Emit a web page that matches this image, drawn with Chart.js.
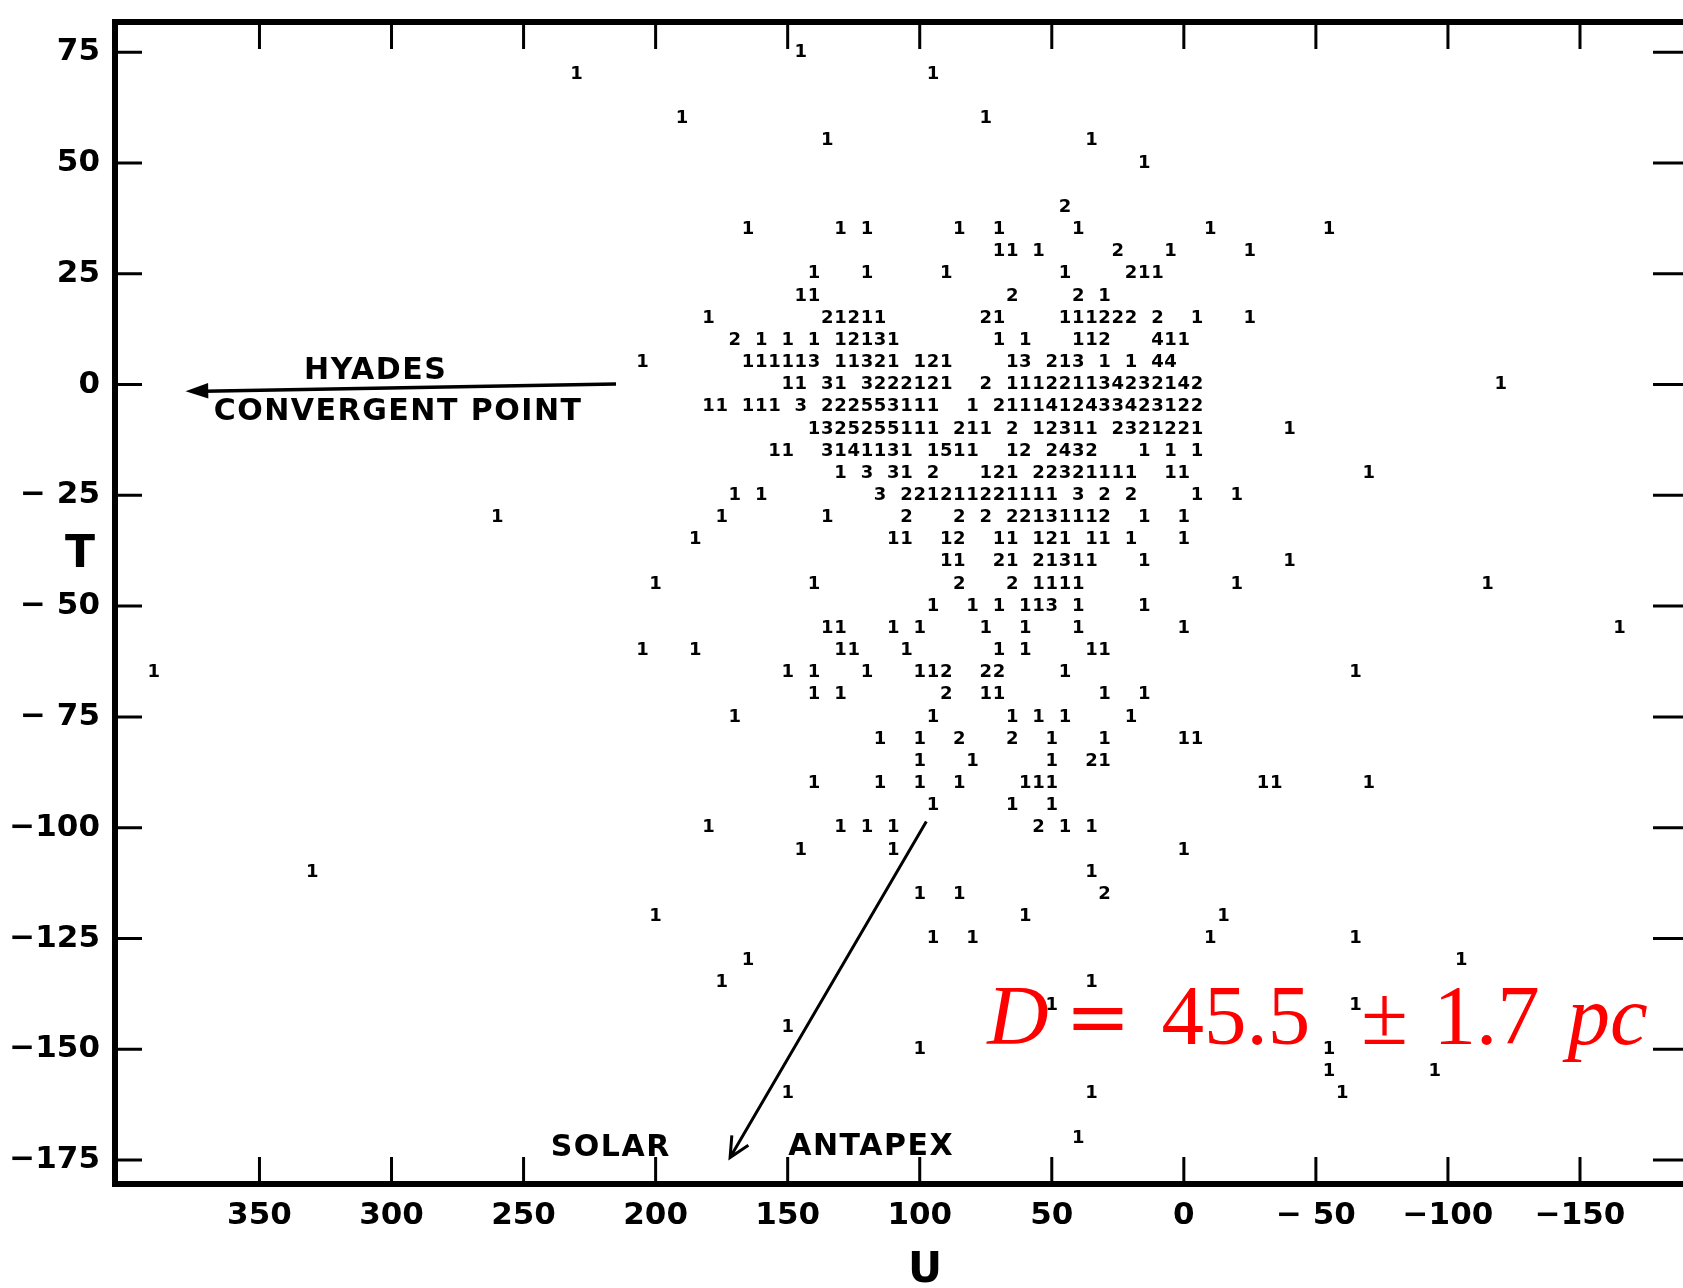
<!DOCTYPE html>
<html>
<head>
<meta charset="utf-8">
<title>U-T plane</title>
<script src="https://cdn.jsdelivr.net/npm/chart.js@4.4.1/dist/chart.umd.min.js"></script>
<style>
html, body { margin: 0; padding: 0; background: #fff; }
canvas { display: block; }
</style>
</head>
<body>
<canvas id="ut" width="1683" height="1288"></canvas>
<script>
var uTicks = [350, 300, 250, 200, 150, 100, 50, 0, -50, -100, -150];
var tTicks = [75, 50, 25, 0, -25, -50, -75, -100, -125, -150, -175];

// T of each row of 5 km/s bins
var rowT = [75, 70, 60, 55, 50, 40, 35, 30, 25, 20, 15, 10, 5, 0,
  -5, -10, -15, -20, -25, -30, -35, -40, -45, -50, -55, -60, -65, -70, -75, -80,
  -85, -90, -95, -100, -105, -110, -115, -120, -125, -130, -135, -140, -145, -150,
  -155, -160, -170];

// counts per row: [U of first bin, digits]; each next digit is 5 km/s lower in U, blank = empty bin
var rowCounts = [
  [[145, '1']],
  [[230, '1'], [95, '1']],
  [[190, '1'], [75, '1']],
  [[135, '1'], [35, '1']],
  [[15, '1']],
  [[45, '2']],
  [[165, '1'], [130, '1 1'], [85, '1'], [70, '1'], [40, '1'], [-10, '1'], [-55, '1']],
  [[70, '11 1'], [25, '2'], [5, '1'], [-25, '1']],
  [[140, '1'], [120, '1'], [90, '1'], [45, '1'], [20, '211']],
  [[145, '11'], [65, '2'], [40, '2 1']],
  [[180, '1'], [135, '21211'], [75, '21'], [45, '111222 2'], [-5, '1'], [-25, '1']],
  [[170, '2 1 1 1 12131'], [70, '1 1'], [40, '112'], [10, '411']],
  [[205, '1'], [165, '111113 11321 121'], [65, '13 213 1 1 44']],
  [[150, '11 31 3222121  2 111221134232142'], [-120, '1']],
  [[180, '11 111 3 222553111  1 2111412433423122']],
  [[140, '1325255111 211 2 12311 2321221'], [-40, '1']],
  [[155, '11  3141131 1511  12 2432   1 1 1']],
  [[130, '1 3 31 2   121 22321111  11'], [-70, '1']],
  [[170, '1 1'], [115, '3 221211221111 3 2 2'], [-5, '1'], [-20, '1']],
  [[260, '1'], [175, '1'], [135, '1'], [105, '2'], [85, '2 2 22131112'], [15, '1'], [0, '1']],
  [[185, '1'], [110, '11'], [90, '12'], [70, '11 121'], [35, '11'], [20, '1'], [0, '1']],
  [[90, '11'], [70, '21 21311'], [15, '1'], [-40, '1']],
  [[200, '1'], [140, '1'], [85, '2'], [65, '2 1111'], [-20, '1'], [-115, '1']],
  [[95, '1'], [80, '1 1 113 1'], [15, '1']],
  [[135, '11'], [110, '1 1'], [75, '1'], [60, '1'], [40, '1'], [0, '1'], [-165, '1']],
  [[205, '1'], [185, '1'], [130, '11'], [105, '1'], [70, '1 1'], [35, '11']],
  [[390, '1'], [150, '1 1'], [120, '1'], [100, '112'], [75, '22'], [45, '1'], [-65, '1']],
  [[140, '1 1'], [90, '2'], [75, '11'], [30, '1'], [15, '1']],
  [[170, '1'], [95, '1'], [65, '1 1 1'], [20, '1']],
  [[115, '1'], [100, '1'], [85, '2'], [65, '2'], [50, '1'], [30, '1'], [0, '11']],
  [[100, '1'], [80, '1'], [50, '1'], [35, '21']],
  [[140, '1'], [115, '1'], [100, '1'], [85, '1'], [60, '111'], [-30, '11'], [-70, '1']],
  [[95, '1'], [65, '1'], [50, '1']],
  [[180, '1'], [130, '1 1 1'], [55, '2 1 1']],
  [[145, '1'], [110, '1'], [0, '1']],
  [[330, '1'], [35, '1']],
  [[100, '1'], [85, '1'], [30, '2']],
  [[200, '1'], [60, '1'], [-15, '1']],
  [[95, '1'], [80, '1'], [-10, '1'], [-65, '1']],
  [[165, '1'], [-105, '1']],
  [[175, '1'], [35, '1']],
  [[50, '1'], [-65, '1']],
  [[150, '1']],
  [[100, '1'], [-55, '1']],
  [[-55, '1'], [-95, '1']],
  [[150, '1'], [35, '1'], [-60, '1']],
  [[40, '1']]
];

// annotation anchors, in (U, T)
var hyadesArrow = [[215, 0.1], [378, -1.5]];
var antapexArrow = [[97.5, -98.6], [171.8, -174.4]];
var labels = [
  ['HYADES', 306, 3.0],
  ['CONVERGENT POINT', 297.5, -6.2],
  ['SOLAR', 217, -172.4],
  ['ANTAPEX', 118.4, -172.2]
];
// distance result, pieces placed along the baseline: text, U, italic, font
var formula = [
  ['D', 74.4, true, 'Liberation Serif', 85],
  ['=', 44.9, false, 'DejaVu Serif', 78],
  ['45.5', 8.5, false, 'Liberation Serif', 85],
  ['\u00b1', -67.2, false, 'Liberation Serif', 85],
  ['1.7', -94.5, false, 'Liberation Serif', 85],
  ['pc', -145.3, true, 'Liberation Serif', 85]
];
var formulaT = -148.9;

function countPoints() {
  var pts = [];
  rowT.forEach(function (t, i) {
    rowCounts[i].forEach(function (seg) {
      var s = seg[1];
      for (var k = 0; k < s.length; k++) {
        if (s[k] !== ' ') pts.push({ x: seg[0] - 5 * k, y: t, n: s[k] });
      }
    });
  });
  return pts;
}

function axisLabel(v) {
  if (v >= 0) return String(v);
  return (v > -100 ? '\u2212 ' : '\u2212') + Math.abs(v);
}

var countText = {
  id: 'countText',
  afterDatasetsDraw: function (chart) {
    var ctx = chart.ctx;
    var pts = chart.data.datasets[0].data;
    ctx.save();
    ctx.font = 'bold 18px "DejaVu Sans"';
    ctx.fillStyle = '#000';
    ctx.textAlign = 'center';
    ctx.textBaseline = 'middle';
    chart.getDatasetMeta(0).data.forEach(function (el, i) {
      ctx.fillText(pts[i].n, el.x, el.y);
    });
    ctx.restore();
  }
};

var frame = {
  id: 'frame',
  afterDraw: function (chart) {
    var ctx = chart.ctx, a = chart.chartArea;
    var xs = chart.scales.x, ys = chart.scales.y;
    ctx.save();
    ctx.strokeStyle = '#000';
    ctx.lineWidth = 6;
    ctx.lineCap = 'square';
    ctx.beginPath();
    ctx.moveTo(a.right, a.top);
    ctx.lineTo(a.left, a.top);
    ctx.lineTo(a.left, a.bottom);
    ctx.lineTo(a.right, a.bottom);
    ctx.stroke();

    // inward ticks on all four sides
    ctx.lineWidth = 3;
    ctx.lineCap = 'butt';
    ctx.beginPath();
    uTicks.forEach(function (v) {
      var px = xs.getPixelForValue(v);
      ctx.moveTo(px, a.bottom); ctx.lineTo(px, a.bottom - 27);
      ctx.moveTo(px, a.top); ctx.lineTo(px, a.top + 27);
    });
    tTicks.forEach(function (v) {
      var py = ys.getPixelForValue(v);
      ctx.moveTo(a.left, py); ctx.lineTo(a.left + 27, py);
      ctx.moveTo(a.right, py); ctx.lineTo(a.right - 30, py);
    });
    ctx.stroke();

    // axis names
    ctx.fillStyle = '#000';
    ctx.textAlign = 'center';
    ctx.textBaseline = 'middle';
    ctx.font = 'bold 44px "DejaVu Sans"';
    ctx.fillText('T', a.left - 35, ys.getPixelForValue(-38.7));
    ctx.font = 'bold 42px "DejaVu Sans"';
    ctx.fillText('U', xs.getPixelForValue(98), a.bottom + 87);

    // arrows
    var p = function (q) { return [xs.getPixelForValue(q[0]), ys.getPixelForValue(q[1])]; };
    var h0 = p(hyadesArrow[0]), h1 = p(hyadesArrow[1]);
    ctx.lineWidth = 3.5;
    ctx.beginPath();
    ctx.moveTo(h0[0], h0[1]);
    ctx.lineTo(h1[0] + 18, h1[1]);
    ctx.stroke();
    var ang = Math.atan2(h1[1] - h0[1], h1[0] - h0[0]);
    ctx.beginPath();
    ctx.moveTo(h1[0], h1[1]);
    ctx.lineTo(h1[0] - 24 * Math.cos(ang - 0.33), h1[1] - 24 * Math.sin(ang - 0.33));
    ctx.lineTo(h1[0] - 24 * Math.cos(ang + 0.33), h1[1] - 24 * Math.sin(ang + 0.33));
    ctx.closePath();
    ctx.fill();

    var s0 = p(antapexArrow[0]), s1 = p(antapexArrow[1]);
    ctx.lineWidth = 3;
    ctx.beginPath();
    ctx.moveTo(s0[0], s0[1]);
    ctx.lineTo(s1[0], s1[1]);
    var b = Math.atan2(s1[1] - s0[1], s1[0] - s0[0]);
    ctx.moveTo(s1[0] - 22 * Math.cos(b - 0.45), s1[1] - 22 * Math.sin(b - 0.45));
    ctx.lineTo(s1[0], s1[1]);
    ctx.lineTo(s1[0] - 22 * Math.cos(b + 0.45), s1[1] - 22 * Math.sin(b + 0.45));
    ctx.stroke();

    // captions
    ctx.font = 'bold 30px "DejaVu Sans"';
    ctx.letterSpacing = '1.5px';
    labels.forEach(function (l) {
      ctx.fillText(l[0], xs.getPixelForValue(l[1]), ys.getPixelForValue(l[2]));
    });
    ctx.letterSpacing = '0px';

    // D = 45.5 +- 1.7 pc
    ctx.fillStyle = '#ff0000';
    ctx.textAlign = 'left';
    ctx.textBaseline = 'alphabetic';
    var by = ys.getPixelForValue(formulaT);
    formula.forEach(function (f) {
      ctx.font = (f[2] ? 'italic ' : '') + f[4] + 'px "' + f[3] + '"';
      ctx.fillText(f[0], xs.getPixelForValue(f[1]), by);
    });
    ctx.restore();
  }
};

var tickFont = { family: 'DejaVu Sans', size: 31, weight: 'bold' };

new Chart(document.getElementById('ut'), {
  type: 'scatter',
  data: {
    datasets: [{
      data: countPoints(),
      pointRadius: 0,
      pointHoverRadius: 0
    }]
  },
  options: {
    responsive: false,
    animation: false,
    devicePixelRatio: 1,
    events: [],
    layout: { padding: { top: 22, right: 0, left: 0, bottom: 0 } },
    plugins: { legend: { display: false }, tooltip: { enabled: false } },
    scales: {
      x: {
        type: 'linear',
        reverse: true,
        min: -189,
        max: 404.7,
        grid: { display: false, drawTicks: false },
        border: { display: false },
        afterBuildTicks: function (scale) {
          scale.ticks = uTicks.map(function (v) { return { value: v }; });
        },
        afterFit: function (scale) {
          scale.height = 104;
          scale.paddingLeft = 0;
          scale.paddingRight = 0;
        },
        ticks: {
          autoSkip: false,
          maxRotation: 0,
          padding: 13,
          color: '#000',
          font: tickFont,
          callback: axisLabel
        }
      },
      y: {
        type: 'linear',
        min: -180.4,
        max: 81.8,
        grid: { display: false, drawTicks: false },
        border: { display: false },
        afterBuildTicks: function (scale) {
          scale.ticks = tTicks.map(function (v) { return { value: v }; });
        },
        afterFit: function (scale) {
          scale.width = 115;
          scale.paddingTop = 0;
          scale.paddingBottom = 0;
        },
        ticks: {
          autoSkip: false,
          padding: 15,
          color: '#000',
          font: tickFont,
          callback: axisLabel
        }
      }
    }
  },
  plugins: [countText, frame]
});
</script>
</body>
</html>
